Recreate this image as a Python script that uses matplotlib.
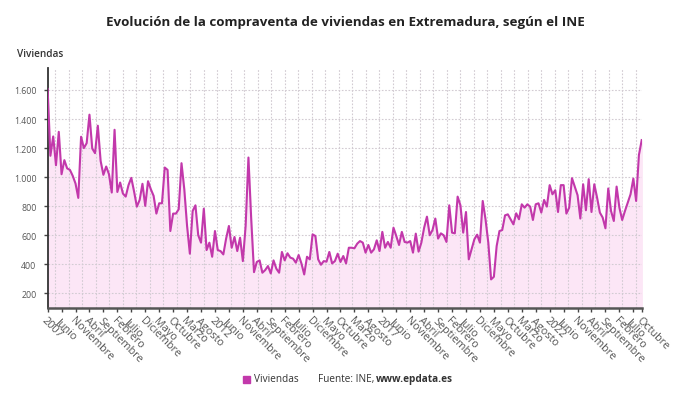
import matplotlib.pyplot as plt
import matplotlib.ticker as mticker
from matplotlib.patches import Rectangle
import numpy as np

plt.rcParams['font.family'] = ['Open Sans', 'DejaVu Sans']

# compraventa mensual de viviendas en Extremadura, ene 2007 - oct 2024
viviendas = [
    1607, 1147, 1280, 1082, 1312, 1020, 1117, 1060, 1050, 1009, 956, 857,
    1278, 1200, 1234, 1430, 1197, 1165, 1354, 1112, 1016, 1073, 1020, 894,
    1326, 898, 963, 887, 866, 945, 995, 901, 797, 843, 954, 802,
    972, 917, 871, 749, 820, 820, 1066, 1050, 629, 749, 749, 779,
    1096, 917, 664, 473, 767, 806, 600, 549, 783, 498, 549, 452,
    629, 498, 491, 468, 577, 664, 514, 588, 491, 583, 422, 664,
    1135, 710, 346, 416, 427, 342, 360, 388, 337, 427, 370, 342,
    485, 427, 476, 446, 439, 411, 464, 406, 330, 452, 434, 606,
    595, 434, 397, 422, 418, 485, 406, 422, 473, 416, 457, 406,
    514, 514, 510, 542, 560, 549, 480, 533, 480, 503, 565, 491,
    623, 514, 554, 514, 652, 595, 533, 623, 554, 549, 560, 480,
    611, 487, 549, 652, 728, 600, 636, 715, 577, 613, 600, 554,
    806, 618, 613, 866, 806, 618, 760, 434, 503, 572, 604, 549,
    836, 710, 549, 296, 314, 526, 629, 636, 737, 744, 710, 675,
    751, 710, 813, 790, 813, 797, 705, 813, 820, 756, 843, 797,
    945, 882, 910, 760, 945, 945, 749, 790, 993, 935, 876, 715,
    951, 772, 986, 760, 951, 859, 756, 722, 648, 922, 767, 698,
    935, 790, 705, 767, 825, 882, 990, 836, 1152, 1255,
]

meses = ['Enero', 'Febrero', 'Marzo', 'Abril', 'Mayo', 'Junio', 'Julio',
         'Agosto', 'Septiembre', 'Octubre', 'Noviembre', 'Diciembre']
anio_inicio = 2007

x = np.arange(len(viviendas))
tick_pos = list(range(0, len(viviendas), 5)) + [len(viviendas) - 1]
tick_lab = []
for p in tick_pos:
    anio, mes = divmod(p, 12)
    tick_lab.append(str(anio_inicio + anio) if mes == 0 else meses[mes])

fig = plt.figure(figsize=(6.9, 4.06), dpi=100)
ax = fig.add_axes([0.069, 0.2392, 0.861, 0.5904])

linea = '#c238ab'
ax.fill_between(x, viviendas, 0, color='#fce6f6', zorder=1)
ax.plot(x, viviendas, color=linea, lw=1.5, zorder=3)

ax.set_xlim(0, len(viviendas) - 1)
ax.set_ylim(100, 1750)
ax.set_yticks(range(200, 1601, 200))
ax.yaxis.set_major_formatter(mticker.FuncFormatter(
    lambda v, p: f'{int(v):,}'.replace(',', '.')))
ax.set_xticks(tick_pos)
ax.set_xticklabels(tick_lab, rotation=-45, ha='left', va='top',
                   rotation_mode='anchor', fontsize=7.8, color='#555555')
ax.xaxis.set_minor_locator(mticker.FixedLocator(np.arange(2.75, 213, 4.84)))

ax.tick_params(axis='y', labelsize=6.3, labelcolor='#555555', length=3,
               color='#444444', width=1, pad=5)
ax.tick_params(axis='x', which='major', length=3, color='#444444', width=1, pad=2)
ax.tick_params(axis='x', which='minor', length=0)

ax.grid(axis='y', which='major', color='#d2cbd2', ls=(0, (1.5, 1.5)), lw=0.8, zorder=0)
ax.grid(axis='x', which='minor', color='#d2cbd2', ls=(0, (1.5, 1.5)), lw=0.8, zorder=0)
ax.grid(axis='x', which='major', visible=False)

for s in ['top', 'right']:
    ax.spines[s].set_visible(False)
ax.spines['left'].set_color('#333333')
ax.spines['left'].set_linewidth(1.3)
ax.spines['bottom'].set_color('#555555')
ax.spines['bottom'].set_linewidth(1.8)

fig.text(0.5, 0.945, 'Evolución de la compraventa de viviendas en Extremadura, según el INE',
         ha='center', va='center', fontsize=9.6, fontweight='bold', color='#222222')
fig.text(0.025, 0.865, 'Viviendas', ha='left', va='center', fontsize=7.2,
         fontweight='semibold', color='#333333')

# leyenda y fuente
fig.patches.append(Rectangle((243 / 690, 1 - 384 / 406), 7 / 690, 7 / 406,
                             transform=fig.transFigure, color=linea, figure=fig))
fig.text(254 / 690, 1 - 380 / 406, 'Viviendas', ha='left', va='center',
         fontsize=7.2, color='#333333')
fig.text(318 / 690, 1 - 380 / 406, 'Fuente: INE, ', ha='left', va='center',
         fontsize=7.2, color='#333333')
fig.text(376 / 690, 1 - 380 / 406, 'www.epdata.es', ha='left', va='center',
         fontsize=7.2, fontweight='bold', color='#333333')

fig.savefig('out.png', dpi=100)
